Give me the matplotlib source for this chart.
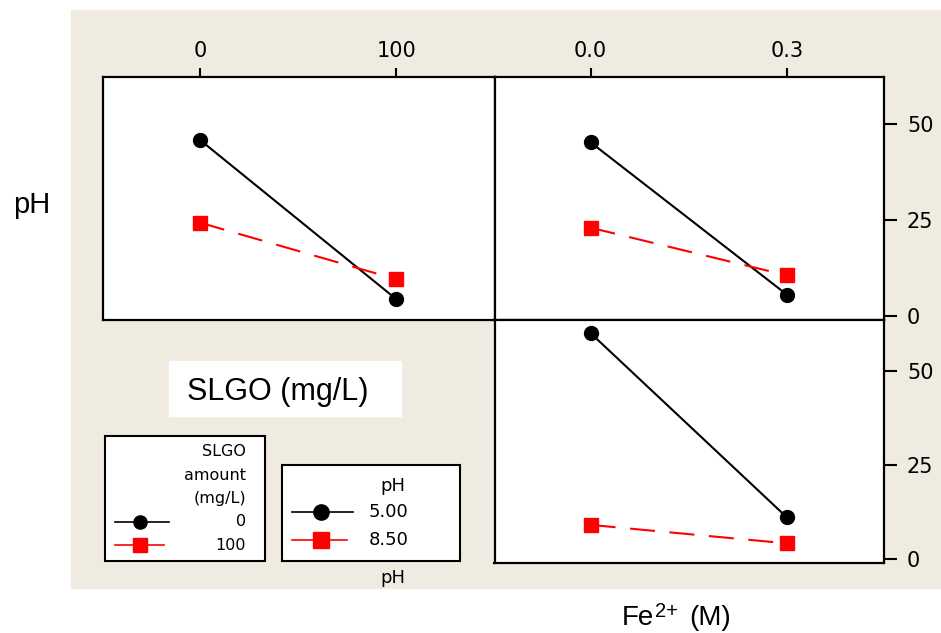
import matplotlib
matplotlib.use('Agg')
import matplotlib.pyplot as plt
from matplotlib.patches import Rectangle
from matplotlib.lines import Line2D

# data
slgo = [0, 100]
fe = [0.0, 0.3]
slgo_labels = ['0', '100']
fe_labels = ['0.0', '0.3']
ph_levels = ['5.00', '8.50']
slgo_levels = ['0', '100']
yticks = [0, 25, 50]

tl_ph5 = [45.8, 4.4]      # vs SLGO, pH 5.00
tl_ph85 = [24.3, 9.6]     # vs SLGO, pH 8.50
tr_ph5 = [45.2, 5.6]      # vs Fe2+, pH 5.00
tr_ph85 = [23.0, 10.6]    # vs Fe2+, pH 8.50
br_slgo0 = [59.9, 11.1]   # vs Fe2+, SLGO 0
br_slgo100 = [9.1, 4.2]   # vs Fe2+, SLGO 100

W, H = 941, 633
BEIGE = '#EFEBE0'
RED = '#FF0000'

fig = plt.figure(figsize=(W / 100, H / 100), dpi=100)

# overlay in pixel coords for background / legends / titles
ov = fig.add_axes([0, 0, 1, 1])
ov.set_xlim(0, W)
ov.set_ylim(H, 0)
ov.axis('off')
ov.add_patch(Rectangle((71, 10), 870, 578, color=BEIGE, zorder=0))


def panel(x0, y0, x1, y1):
    ax = fig.add_axes([x0 / W, 1 - y1 / H, (x1 - x0) / W, (y1 - y0) / H])
    ax.set_facecolor('white')
    for s in ax.spines.values():
        s.set_linewidth(1.6)
    return ax


def draw(ax, x, black, red):
    ax.plot(x, black, color='black', lw=1.5, marker='o', ms=10, zorder=3)
    ax.plot(x, red, color=RED, lw=1.5, ls=(0, (12, 7)), marker='s', ms=10, zorder=3)


tl = panel(103, 77, 494.5, 320)
tr = panel(494.5, 77, 884, 320)
br = panel(494.5, 320, 884, 563)

draw(tl, slgo, tl_ph5, tl_ph85)
draw(tr, fe, tr_ph5, tr_ph85)
draw(br, fe, br_slgo0, br_slgo100)

tl.set_xlim(-49.5, 150)
tr.set_xlim(-0.147, 0.4485)
br.set_xlim(-0.147, 0.4485)
tl.set_ylim(-1.0, 62.2)
tr.set_ylim(-1.0, 62.2)
br.set_ylim(-1.0, 63.4)

for ax, xs, labs in [(tl, slgo, slgo_labels), (tr, fe, fe_labels)]:
    ax.xaxis.tick_top()
    ax.set_xticks(xs, labs)
    ax.tick_params(axis='x', direction='out', length=6.5, width=1.5, pad=5, labelsize=15)
tl.set_yticks([])
br.set_xticks([])

for ax in (tr, br):
    ax.yaxis.tick_right()
    ax.set_yticks(yticks, [str(v) for v in yticks])
    ax.tick_params(axis='y', direction='out', length=9.5, width=1.5, pad=7, labelsize=15)

# axis titles
ov.text(32, 205, 'pH', fontsize=21, family='Liberation Sans', ha='center', va='center')
ov.add_patch(Rectangle((169, 361), 232, 55, color='white', zorder=1))
ov.text(278, 400, 'SLGO (mg/L)', fontsize=22, family='Liberation Sans',
        ha='center', va='baseline', zorder=2)
ov.text(622, 625, 'Fe', fontsize=20, family='Liberation Sans', ha='left', va='baseline')
ov.text(655, 617, '2+', fontsize=14.5, family='Liberation Sans', ha='left', va='baseline')
ov.text(689, 625, '(M)', fontsize=20, family='Liberation Sans', ha='left', va='baseline')

# legend 1: SLGO amount
ov.add_patch(Rectangle((105, 436), 160, 125, facecolor='white', edgecolor='black', lw=1.5, zorder=1))
for txt, y in zip(['SLGO', 'amount', '(mg/L)'], [452, 476, 498]):
    ov.text(246, y, txt, fontsize=11.5, ha='right', va='center', zorder=2)
for lab, y, c, m, xe in zip(slgo_levels, [522, 545], ['black', RED], ['o', 's'], [169, 164]):
    ov.add_line(Line2D([115, xe], [y, y], color=c, lw=1.2, zorder=2))
    ov.add_line(Line2D([140], [y], color=c, marker=m, ms=9.5, zorder=3))
    ov.text(246, y, lab, fontsize=11.5, ha='right', va='center', zorder=2)

# legend 2: pH
ov.add_patch(Rectangle((282, 465), 178, 96, facecolor='white', edgecolor='black', lw=1.5, zorder=1))
ov.text(393, 486, 'pH', fontsize=13, ha='center', va='center', zorder=2)
for lab, y, c, m, xe in zip(ph_levels, [512, 540], ['black', RED], ['o', 's'], [353, 347]):
    ov.add_line(Line2D([292, xe], [y, y], color=c, lw=1.2, zorder=2))
    ov.add_line(Line2D([321], [y], color=c, marker=m, ms=11, zorder=3))
    ov.text(369, y, lab, fontsize=13, ha='left', va='center', zorder=2)
ov.text(393, 578, 'pH', fontsize=13, ha='center', va='center', zorder=2)

fig.savefig('out.png', dpi=100, facecolor='white')
